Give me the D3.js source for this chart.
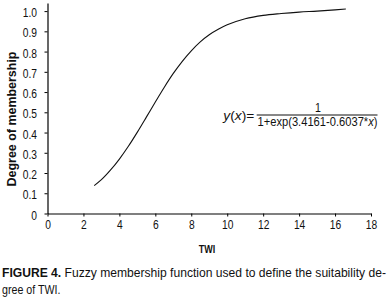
<!DOCTYPE html>
<html>
<head>
<meta charset="utf-8">
<script src="https://cdn.jsdelivr.net/npm/d3@7"></script>
<style>
  html, body { margin: 0; padding: 0; background: #fff; }
  svg { display: block; }
  text { font-family: 'Liberation Sans', Arial, sans-serif; fill: #111; }
</style>
</head>
<body>
<svg id="chart" width="389" height="300"></svg>
<script>
// Data
const twi = [2.6, 3, 3.5, 4, 4.5, 5, 5.5, 6, 6.5, 7, 7.5, 8, 8.5, 9, 9.5, 10, 11, 12, 13, 14, 15, 16, 16.6];
const membership = [0.138, 0.167, 0.214, 0.269, 0.332, 0.402, 0.476, 0.551, 0.624, 0.692, 0.752, 0.804, 0.848, 0.883, 0.910, 0.932, 0.962, 0.979, 0.988, 0.995, 1.000, 1.006, 1.01];
const xTicks = [0, 2, 4, 6, 8, 10, 12, 14, 16, 18];
const yTicks = [0, 0.1, 0.2, 0.3, 0.4, 0.5, 0.6, 0.7, 0.8, 0.9, 1.0];
const yTickLabels = ["0", "0.1", "0.2", "0.3", "0.4", "0.5", "0.6", "0.7", "0.8", "0.9", "1.0"];
const xTitle = "TWI";
const yTitle = "Degree of membership";
const captionBold = "FIGURE 4.";
const captionLine1 = " Fuzzy membership function used to define the suitability de-";
const captionLine2 = "gree of TWI.";

const SX = 0.82; // narrow-font emulation
const svg = d3.select("#chart");
const x = d3.scaleLinear().domain([0, 18]).range([47.5, 371]);
const y = d3.scaleLinear().domain([0, 1.04]).range([213.5, 3]);

function stext(parent, px, py, anchor, size, weight) {
  return parent.append("text")
    .attr("transform", `translate(${px},${py}) scale(${SX},1)`)
    .attr("text-anchor", anchor)
    .style("font-size", size + "px")
    .style("font-weight", weight || "normal");
}
// fit a text (drawn at origin) to a given width by horizontal scaling
function fitText(sel, px, py, width, rotate) {
  const len = sel.node().getComputedTextLength();
  const s = width / len;
  sel.attr("transform", `translate(${px},${py})${rotate ? " rotate(" + rotate + ")" : ""} scale(${s},1)`);
}

// X axis
const gx = svg.append("g").attr("transform", `translate(0,${y(0)})`)
  .call(d3.axisBottom(x).tickValues(xTicks).tickSize(3).tickSizeOuter(0).tickFormat(d3.format("d")));
gx.select(".domain").attr("stroke", "#000").attr("stroke-width", 1.2);
gx.selectAll(".tick line").attr("stroke", "#000");
gx.selectAll(".tick text").attr("y", 15.5).attr("dy", "0").attr("transform", `scale(${SX},1)`)
  .style("font-size", "12.5px").style("font-family", "'Liberation Sans', Arial, sans-serif").attr("fill", "#111");

// Y axis
const gy = svg.append("g").attr("transform", `translate(${x(0)},0)`)
  .call(d3.axisLeft(y).tickValues(yTicks).tickSize(3).tickSizeOuter(0).tickFormat((d, i) => yTickLabels[i]));
gy.select(".domain").attr("stroke", "#000").attr("stroke-width", 1.2);
gy.selectAll(".tick line").attr("stroke", "#000");
gy.selectAll(".tick text").attr("x", -10.5 / SX).attr("dy", "0.45em").attr("transform", `scale(${SX},1)`)
  .style("font-size", "12.5px").style("font-family", "'Liberation Sans', Arial, sans-serif").attr("fill", "#111");

// Curve
const line = d3.line().x((d, i) => x(twi[i])).y(d => y(d)).curve(d3.curveMonotoneX);
svg.append("path").datum(membership)
  .attr("d", line).attr("fill", "none").attr("stroke", "#111").attr("stroke-width", 1.1);

// Axis titles
stext(svg, 207, 252.5, "middle", 11, "bold").text(xTitle);
const yt = svg.append("text").attr("text-anchor", "middle")
  .style("font-size", "12.5px").style("font-weight", "bold").text(yTitle);
fitText(yt, 16, 119, 135, -90);

// Formula
const f = svg.append("g");
const lhs = f.append("text").style("font-size", "13px");
lhs.append("tspan").style("font-style", "italic").text("y");
lhs.append("tspan").text("(");
lhs.append("tspan").style("font-style", "italic").text("x");
lhs.append("tspan").text(")=");
fitText(lhs, 223.3, 120, 31);
f.append("line").attr("x1", 256.7).attr("x2", 377.5).attr("y1", 115).attr("y2", 115)
  .attr("stroke", "#111").attr("stroke-width", 1);
stext(f, 318, 111.7, "middle", 13).text("1");
const den = f.append("text").style("font-size", "13px");
den.append("tspan").text("1+exp(3.4161-0.6037*");
den.append("tspan").style("font-style", "italic").text("x");
den.append("tspan").text(")");
fitText(den, 257.5, 125.5, 120);

// Caption
const c1 = svg.append("text").style("font-size", "13px");
c1.append("tspan").style("font-weight", "bold").text(captionBold);
c1.append("tspan").text(captionLine1);
fitText(c1, 2, 277, 384.5);
stext(svg, 2, 293.5, "start", 13).text(captionLine2);
</script>
</body>
</html>
